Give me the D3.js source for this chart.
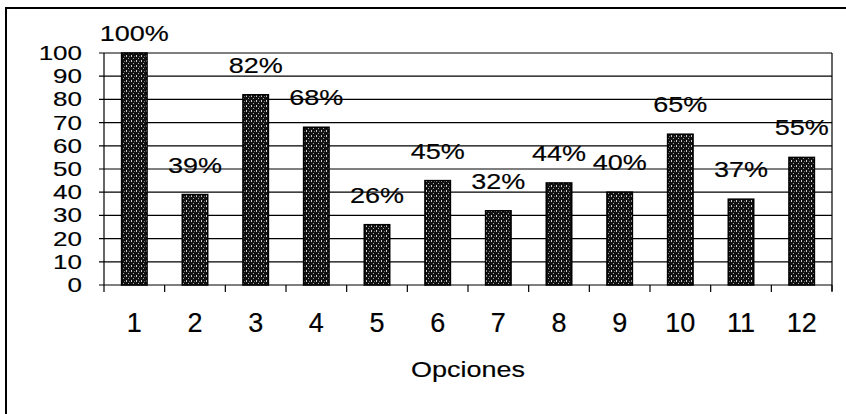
<!DOCTYPE html>
<html>
<head>
<meta charset="utf-8">
<script src="https://cdn.jsdelivr.net/npm/d3@7"></script>
<style>
  body { margin: 0; background: #fff; }
  svg { display: block; font-family: "Liberation Sans", Arial, sans-serif; }
</style>
</head>
<body>
<div id="chart"></div>
<script>
// Data
const opciones = ["1", "2", "3", "4", "5", "6", "7", "8", "9", "10", "11", "12"];
const valores = [100, 39, 82, 68, 26, 45, 32, 44, 40, 65, 37, 55];
const etiquetas = ["100%", "39%", "82%", "68%", "26%", "45%", "32%", "44%", "40%", "65%", "37%", "55%"];
const yTicks = [0, 10, 20, 30, 40, 50, 60, 70, 80, 90, 100];
const xTitle = "Opciones";

const width = 846, height = 414;
const margin = {top: 53, right: 14, bottom: 129, left: 104};

const svg = d3.select('#chart')
    .append('svg')
        .attr('width', width)
        .attr('height', height);

// speckled fill like the scanned bars
const defs = svg.append('defs');
const pat = defs.append('pattern')
    .attr('id', 'speckle')
    .attr('width', 5)
    .attr('height', 5)
    .attr('patternUnits', 'userSpaceOnUse');
pat.append('rect').attr('width', 5).attr('height', 5).attr('fill', '#111');
pat.append('rect').attr('x', 1).attr('y', 0).attr('width', 1).attr('height', 2).attr('fill', '#ccc');
pat.append('rect').attr('x', 3).attr('y', 3).attr('width', 1).attr('height', 1).attr('fill', '#aaa');
pat.append('rect').attr('x', 4).attr('y', 1).attr('width', 1).attr('height', 1).attr('fill', '#777');

// outer frame (left + top visible)
svg.append('path')
    .attr('d', 'M6,414V8H846')
    .attr('fill', 'none')
    .attr('stroke', '#000')
    .attr('stroke-width', 2);

const x = d3.scaleBand()
    .domain(opciones)
    .range([margin.left, width - margin.right])
    .paddingInner(0.58)
    .paddingOuter(0.29);

const y = d3.scaleLinear()
    .domain([0, 100])
    .range([height - margin.bottom, margin.top]);

const step = x.step();
const x0 = margin.left, x1 = width - margin.right;

// gridlines
svg.append('g')
    .selectAll('line')
    .data(yTicks)
    .enter()
    .append('line')
        .attr('x1', x0 - 5)
        .attr('x2', x1)
        .attr('y1', d => y(d))
        .attr('y2', d => y(d))
        .attr('stroke', '#000')
        .attr('stroke-width', 1.2);

// plot borders
svg.append('line')
    .attr('x1', x0).attr('x2', x0)
    .attr('y1', y(100)).attr('y2', y(0))
    .attr('stroke', '#000').attr('stroke-width', 1.2);
svg.append('line')
    .attr('x1', x1).attr('x2', x1)
    .attr('y1', y(100)).attr('y2', y(0) + 6)
    .attr('stroke', '#000').attr('stroke-width', 1.2);

// x ticks at category boundaries
svg.append('g')
    .selectAll('line')
    .data(d3.range(opciones.length + 1))
    .enter()
    .append('line')
        .attr('x1', i => x0 + i * step)
        .attr('x2', i => x0 + i * step)
        .attr('y1', y(0))
        .attr('y2', y(0) + 7)
        .attr('stroke', '#000')
        .attr('stroke-width', 1.2);

// bars
svg.append('g')
    .selectAll('rect')
    .data(valores)
    .enter()
    .append('rect')
        .attr('x', (d, i) => x(opciones[i]))
        .attr('y', d => y(d))
        .attr('width', x.bandwidth())
        .attr('height', d => y(0) - y(d))
        .attr('fill', 'url(#speckle)')
        .attr('stroke', '#000')
        .attr('stroke-width', 1.5);

// squashed text helper (the scan is compressed vertically)
const addText = (g, tx, ty, txt, size, sy, anchor) => {
    g.append('g')
        .attr('transform', 'translate(' + tx + ',' + ty + ') scale(1,' + sy + ')')
        .append('text')
            .attr('text-anchor', anchor)
            .attr('font-size', size)
            .attr('fill', '#000')
            .attr('stroke', '#000')
            .attr('stroke-width', 0.2)
            .text(txt);
};

// y tick labels
const yLab = svg.append('g');
yTicks.forEach(t => addText(yLab, 82, y(t) + 7, String(t), 26, 0.8, 'end'));

// x tick labels
const xLab = svg.append('g');
opciones.forEach(o => addText(xLab, x(o) + x.bandwidth() / 2, 332, o, 27, 1, 'middle'));

// data labels
const dLab = svg.append('g');
valores.forEach((v, i) => {
    const ly = Math.max(y(v) - 22, margin.top - 12);
    addText(dLab, x(opciones[i]) + x.bandwidth() / 2, ly, etiquetas[i], 27, 0.8, 'middle');
});

// axis title
addText(svg, (x0 + x1) / 2, 377, xTitle, 27, 0.85, 'middle');
</script>
</body>
</html>
